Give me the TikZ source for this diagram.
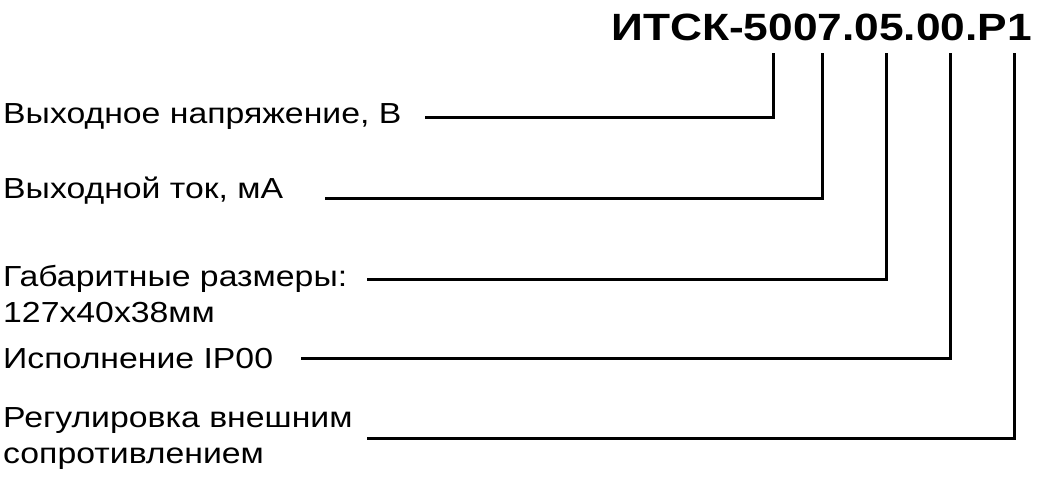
\documentclass[tikz,border=0pt]{standalone}
\usepackage{fontspec}
\setmainfont{Liberation Sans}[FakeStretch=1.165]
\begin{document}
\begin{tikzpicture}[x=1pt,y=-1pt,
  label/.style={anchor=base west, inner sep=0pt, align=left,
    font=\fontsize{29}{36}\selectfont},
  leader/.style={line width=3pt}]
  \useasboundingbox (0,0) rectangle (1040,480);

  % Designation
  \node[anchor=base west, inner sep=0pt, font=\fontsize{38}{46}\selectfont\bfseries]
    (code) at (611,40) {ИТСК-5007.05.00.Р1};

  % Descriptions (base = last line)
  \node[label] (volt) at (3,123) {Выходное напряжение, В};
  \node[label] (curr) at (3,198) {Выходной ток, мА};
  \node[label] (size) at (3,322) {Габаритные размеры:\\127x40x38мм};
  \node[label] (ip)   at (3,368) {Исполнение IP00};
  \node[label] (adj)  at (3,463) {Регулировка внешним\\сопротивлением};

  % Pins under the designation and starts of the leaders
  \foreach \n/\px/\sx/\y in {1/773/425/117, 2/822/325/198, 3/886/367/279,
                             4/950/301/358, 5/1014/367/438} {
    \coordinate (p\n) at (\px,53);
    \coordinate (s\n) at (\sx,\y);
    \draw[leader] (s\n) -| (p\n);
  }
\end{tikzpicture}
\end{document}
